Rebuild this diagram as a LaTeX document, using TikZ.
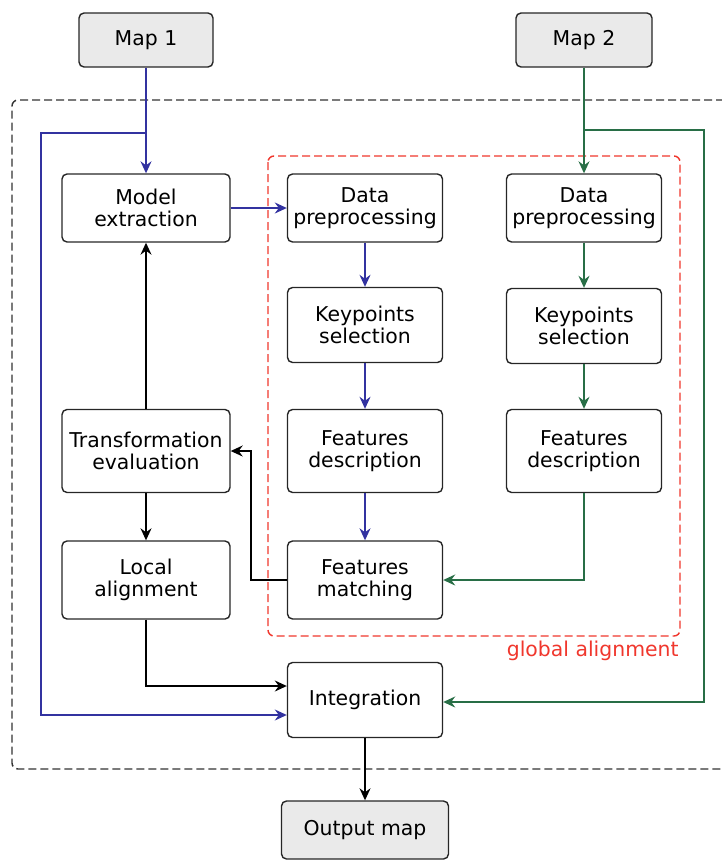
\documentclass[tikz,border=0pt]{standalone}
\usepackage{fontspec}
\setmainfont{DejaVu Sans}
\usetikzlibrary{arrows.meta}

\definecolor{bleu}{RGB}{50,50,160}
\definecolor{vert}{RGB}{40,110,70}
\definecolor{rouge}{RGB}{240,55,45}
\definecolor{gris}{RGB}{234,234,234}

\begin{document}
\begin{tikzpicture}[x=0.5pt, y=-0.5pt,
    bloc/.style={draw=black!85, rounded corners=2.5pt, line width=0.7pt, align=center,
        inner sep=0pt, font=\fontsize{10.2}{11.3}\selectfont},
    carte/.style={bloc, fill=gris},
    fleche/.style={-{Stealth[length=6pt, width=5.5pt, inset=2pt]}, line width=0.7pt},
    cadre/.style={dash pattern=on 4pt off 2pt, line width=0.7pt}]

    \useasboundingbox (0,0) rectangle (722,862);
    \clip (0,0) rectangle (722,862);

    % Entrées et sortie
    \node[carte, minimum width=67pt, minimum height=27pt] (map1) at (146,40) {Map 1};
    \node[carte, minimum width=68pt, minimum height=27pt] (map2) at (584,40) {Map 2};
    \node[carte, minimum width=83.5pt, minimum height=29pt] (out) at (365,830) {Output map};

    % Colonne de gauche
    \node[bloc, minimum width=84pt, minimum height=34pt] (model) at (146,208) {Model\\extraction};
    \node[bloc, minimum width=84pt, minimum height=41.5pt] (te) at (146,451) {Transformation\\evaluation};
    \node[bloc, minimum width=84pt, minimum height=39pt] (la) at (146,580) {Local\\alignment};

    % Chaîne de la carte 1
    \node[bloc, minimum width=77.5pt, minimum height=34pt] (dpL) at (365,208) {Data\\preprocessing};
    \node[bloc, minimum width=77.5pt, minimum height=37.5pt] (ksL) at (365,325) {Keypoints\\selection};
    \node[bloc, minimum width=77.5pt, minimum height=41.5pt] (fdL) at (365,451) {Features\\description};
    \node[bloc, minimum width=77.5pt, minimum height=39pt] (fm) at (365,580) {Features\\matching};
    \node[bloc, minimum width=77.5pt, minimum height=37.5pt] (integ) at (365,700) {Integration};

    % Chaîne de la carte 2
    \node[bloc, minimum width=77.5pt, minimum height=34pt] (dpR) at (584,208) {Data\\preprocessing};
    \node[bloc, minimum width=77.5pt, minimum height=37.5pt] (ksR) at (584,326) {Keypoints\\selection};
    \node[bloc, minimum width=77.5pt, minimum height=41.5pt] (fdR) at (584,451) {Features\\description};

    % Cadres pointillés
    \draw[cadre, black!80, rounded corners=3pt] (760,100) -- (12,100) -- (12,769) -- (760,769);
    \draw[cadre, rouge, rounded corners=3pt] (268,156) rectangle (680,636);
    \node[text=rouge, anchor=east, inner sep=0pt, font=\fontsize{10.2}{11.3}\selectfont] (etiquette) at (679,651) {global alignment};

    % Flux de la carte 1
    \coordinate (brancheG) at (146,133);
    \coordinate (coinG) at (41,715);
    \draw[fleche, bleu] (map1) -- (model);
    \draw[fleche, bleu] (brancheG) -| (coinG) -- (coinG -| integ.west);
    \draw[fleche, bleu] (model) -- (dpL);
    \draw[fleche, bleu] (dpL) -- (ksL);
    \draw[fleche, bleu] (ksL) -- (fdL);
    \draw[fleche, bleu] (fdL) -- (fm);

    % Flux de la carte 2
    \coordinate (brancheD) at (584,130);
    \coordinate (coinD) at (704,702);
    \draw[fleche, vert] (map2) -- (dpR);
    \draw[fleche, vert] (brancheD) -| (coinD) -- (coinD -| integ.east);
    \draw[fleche, vert] (dpR) -- (ksR);
    \draw[fleche, vert] (ksR) -- (fdR);
    \draw[fleche, vert] (fdR.south) |- (fm.east);

    % Boucle d'alignement local
    \coordinate (retour) at (251,580);
    \draw[fleche] (fm.west) -- (retour) |- (te.east);
    \draw[fleche] (te) -- (model);
    \draw[fleche] (te) -- (la);
    \draw[fleche] (la.south) |- ([yshift=7pt]integ.west);
    \draw[fleche] (integ) -- (out);

\end{tikzpicture}
\end{document}
